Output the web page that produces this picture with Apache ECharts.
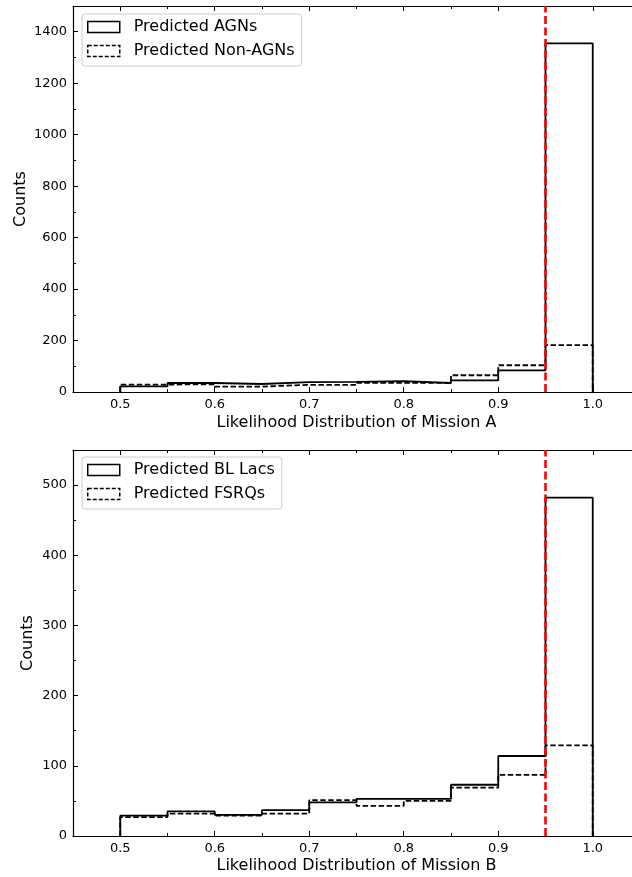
<!DOCTYPE html>
<html>
<head>
<meta charset="utf-8">
<script src="https://cdn.jsdelivr.net/npm/echarts@6/dist/echarts.min.js"></script>
<style>
html,body{margin:0;padding:0;background:#fff;}
#chart{width:632px;height:877px;}
</style>
</head>
<body>
<div id="chart"></div>
<script>
// ---- data ----
const binEdges = [0.5, 0.55, 0.6, 0.65, 0.7, 0.75, 0.8, 0.85, 0.9, 0.95, 1.0];
const agnCounts    = [22, 35, 31, 38, 39, 42, 35, 45, 84, 1355];
const nonAgnCounts = [29, 30, 21, 28, 28, 36, 35, 65, 104, 182];
const blLacCounts  = [29, 35, 30, 37, 48, 53, 53, 73, 114, 482];
const fsrqCounts   = [27, 32, 29, 32, 51, 43, 50, 69, 87, 129];
const thresholdX = 0.95;

const xMajorTicks = [0.5, 0.6, 0.7, 0.8, 0.9, 1.0];
const xMinorTicks = [0.45, 0.55, 0.65, 0.75, 0.85, 0.95, 1.05];
const topYMajorTicks = [0, 200, 400, 600, 800, 1000, 1200, 1400];
const topYMinorTicks = [100, 300, 500, 700, 900, 1100, 1300];
const botYMajorTicks = [0, 100, 200, 300, 400, 500];
const botYMinorTicks = [50, 150, 250, 350, 450];

const topNames = ['Predicted AGNs', 'Predicted Non-AGNs'];
const botNames = ['Predicted BL Lacs', 'Predicted FSRQs'];
const xTitles = ['Likelihood Distribution of Mission A', 'Likelihood Distribution of Mission B'];
const yTitle = 'Counts';

// ---- helpers ----
const FONT = 'DejaVu Sans';
const BLACK = '#000';

function stepData(edges, counts) {
  const pts = [[edges[0], 0]];
  counts.forEach((c, i) => pts.push([edges[i], c]));
  pts.push([edges[edges.length - 1], 0]);
  return pts;
}

function xAxesFor(gridIndex, title, gap) {
  const base = {type: 'value', gridIndex, min: 0.45, max: 1.05, splitLine: {show: false}};
  const tickStyle = {color: BLACK, width: 1};
  return [
    Object.assign({}, base, {
      position: 'bottom',
      axisLine: {show: true, onZero: false, lineStyle: {color: BLACK, width: 1.2}},
      axisTick: {show: true, inside: true, length: 5, customValues: xMajorTicks, lineStyle: tickStyle},
      axisLabel: {show: true, customValues: xMajorTicks, formatter: v => v.toFixed(1),
                  color: BLACK, fontSize: 13, fontFamily: FONT, margin: 6},
      name: title, nameLocation: 'middle', nameGap: gap, nameMoveOverlap: false,
      nameTextStyle: {color: BLACK, fontSize: 16, fontFamily: FONT}
    }),
    Object.assign({}, base, {
      position: 'bottom',
      axisLine: {show: false, onZero: false},
      axisTick: {show: true, inside: true, length: 3, customValues: xMinorTicks, lineStyle: tickStyle},
      axisLabel: {show: false}
    }),
    Object.assign({}, base, {
      position: 'top',
      axisLine: {show: true, onZero: false, lineStyle: {color: BLACK, width: 1.2}},
      axisTick: {show: true, inside: true, length: 5, customValues: xMajorTicks, lineStyle: tickStyle},
      axisLabel: {show: false}
    }),
    Object.assign({}, base, {
      position: 'top',
      axisLine: {show: false, onZero: false},
      axisTick: {show: true, inside: true, length: 3, customValues: xMinorTicks, lineStyle: tickStyle},
      axisLabel: {show: false}
    })
  ];
}

function yAxesFor(gridIndex, maxV, major, minor, gap) {
  const base = {type: 'value', gridIndex, min: 0, max: maxV, position: 'left', splitLine: {show: false}};
  const tickStyle = {color: BLACK, width: 1};
  return [
    Object.assign({}, base, {
      axisLine: {show: true, onZero: false, lineStyle: {color: BLACK, width: 1.2}},
      axisTick: {show: true, inside: true, length: 5, customValues: major, lineStyle: tickStyle},
      axisLabel: {show: true, customValues: major, formatter: v => String(Math.round(v)),
                  color: BLACK, fontSize: 13, fontFamily: FONT, margin: 6},
      name: yTitle, nameLocation: 'middle', nameGap: gap, nameMoveOverlap: false,
      nameTextStyle: {color: BLACK, fontSize: 16, fontFamily: FONT}
    }),
    Object.assign({}, base, {
      axisLine: {show: false, onZero: false},
      axisTick: {show: true, inside: true, length: 3, customValues: minor, lineStyle: tickStyle},
      axisLabel: {show: false}
    })
  ];
}

function histSeries(name, counts, xi, yi, dashed) {
  return {
    name, type: 'line', step: 'end', symbol: 'none', silent: true,
    xAxisIndex: xi, yAxisIndex: yi,
    data: stepData(binEdges, counts),
    lineStyle: {color: BLACK, width: 1.8, type: dashed ? [5.5, 2.5] : 'solid'},
    itemStyle: {color: BLACK},
    z: dashed ? 3 : 2
  };
}

function vline(xi, yi) {
  return {
    name: 'threshold', type: 'line', data: [], xAxisIndex: xi, yAxisIndex: yi, z: 5,
    markLine: {
      silent: true, symbol: ['none', 'none'], animation: false,
      label: {show: false},
      lineStyle: {color: '#ff0000', width: 2.6, type: [8, 3.5]},
      data: [{xAxis: thresholdX}]
    }
  };
}

function legendFor(names, top) {
  return {
    orient: 'vertical', left: 82, top: top,
    padding: [5, 7, 7, 5], itemGap: 8,
    itemWidth: 32, itemHeight: 11,
    backgroundColor: 'rgba(255,255,255,0.8)',
    borderColor: '#cccccc', borderWidth: 1, borderRadius: 3,
    textStyle: {color: BLACK, fontSize: 16, fontFamily: FONT, lineHeight: 16, padding: [0, 0, 0, 9]},
    data: names.map((n, i) => ({
      name: n, icon: 'rect',
      itemStyle: {color: 'rgba(0,0,0,0)', borderColor: BLACK, borderWidth: 1.5,
                  borderType: i === 1 ? [4, 2] : 'solid'}
    })),
    selectedMode: false
  };
}

const chart = echarts.init(document.getElementById('chart'), null, {renderer: 'canvas'});
chart.setOption({
  animation: false,
  backgroundColor: '#fff',
  grid: [
    {left: 73, top: 6, width: 567, height: 386, outerBoundsMode: 'none', containLabel: false},
    {left: 73, top: 450, width: 567, height: 386, outerBoundsMode: 'none', containLabel: false}
  ],
  xAxis: [].concat(xAxesFor(0, xTitles[0], 23), xAxesFor(1, xTitles[1], 22)),
  yAxis: [].concat(
    yAxesFor(0, 1500, topYMajorTicks, topYMinorTicks, 44),
    yAxesFor(1, 550, botYMajorTicks, botYMinorTicks, 37)
  ),
  legend: [legendFor(topNames, 14), legendFor(botNames, 457)],
  series: [
    histSeries(topNames[0], agnCounts, 0, 0, false),
    histSeries(topNames[1], nonAgnCounts, 0, 0, true),
    vline(0, 0),
    histSeries(botNames[0], blLacCounts, 4, 2, false),
    histSeries(botNames[1], fsrqCounts, 4, 2, true),
    vline(4, 2)
  ]
});
</script>
</body>
</html>
